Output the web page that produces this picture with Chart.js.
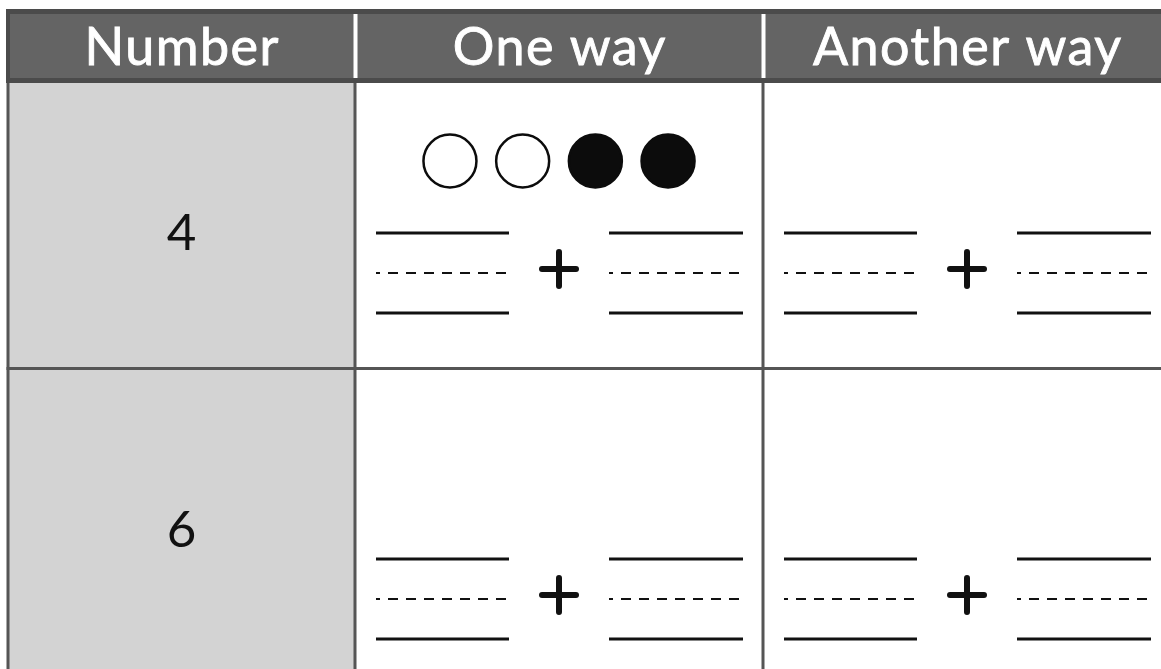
<!DOCTYPE html>
<html>
<head>
<meta charset="utf-8">
<script src="https://cdn.jsdelivr.net/npm/chart.js@4.4.1/dist/chart.umd.min.js"></script>
<style>
  html, body { margin: 0; padding: 0; background: #fff; }
  #wrap { width: 1161px; height: 669px; position: relative; }
</style>
</head>
<body>
<div id="wrap"><canvas id="sheet"></canvas></div>
<script>
  // table content
  const headers = ["Number", "One way", "Another way"];
  const numbers = ["4", "6"];
  // counters shown above the first "One way" cell: 0 = open, 1 = filled
  const counters = [[0, 0, 1, 1], []];
  // which answer cells have blanks (row, column)
  const answerCells = [[0, 1], [0, 2], [1, 1], [1, 2]];

  // layout (in page pixels, mapped through the linear scales)
  const colEdges = [8, 355, 763, 1171];
  const headTop = 9;
  const headBottom = 83;
  const rowEdges = [83, 368.5, 720];
  const blankMidY = [273, 599];
  const counterY = 161;
  const counterGap = 72.7;

  const ink = "#111111";
  const gridColor = "#555555";

  function colCenter(c) {
    return (colEdges[c] + colEdges[c + 1]) / 2;
  }

  function seg(x1, y1, x2, y2, width, dash, cap) {
    return {
      type: "line",
      data: [{ x: x1, y: y1 }, { x: x2, y: y2 }],
      borderColor: ink,
      borderWidth: width,
      borderDash: dash || [],
      borderDashOffset: dash ? 6 : 0,
      borderCapStyle: cap || "butt",
      pointRadius: 0,
      showLine: true,
      clip: false
    };
  }

  const datasets = [];

  // blanks: top solid, dashed middle, bottom solid, on both sides of the plus
  for (const [r, c] of answerCells) {
    const cx = colCenter(c);
    const my = blankMidY[r];
    for (const [a, b] of [[cx - 183, cx - 50], [cx + 50, cx + 184]]) {
      datasets.push(seg(a, my - 40, b, my - 40, 3));
      datasets.push(seg(a, my, b, my, 2, [10, 8]));
      datasets.push(seg(a, my + 40, b, my + 40, 3));
    }
    // plus sign
    const py0 = my - 4;
    datasets.push(seg(cx - 17, py0, cx + 17, py0, 6, null, "round"));
    datasets.push(seg(cx, py0 - 17, cx, py0 + 17, 6, null, "round"));
  }

  // counters
  counters.forEach((row, r) => {
    if (!row.length) return;
    const cx = colCenter(1);
    datasets.push({
      type: "scatter",
      data: row.map((v, i) => ({ x: cx + (i - (row.length - 1) / 2) * counterGap, y: counterY })),
      pointStyle: "circle",
      pointRadius: 26.5,
      pointHoverRadius: 26.5,
      pointBorderWidth: 2.5,
      pointBorderColor: "#0c0c0c",
      pointBackgroundColor: row.map((v) => (v ? "#0c0c0c" : "#ffffff")),
      clip: false
    });
  });

  const tablePlugin = {
    id: "tableGrid",
    beforeDatasetsDraw(chart) {
      const { ctx, scales: { x, y } } = chart;
      const px = (v) => x.getPixelForValue(v);
      const py = (v) => y.getPixelForValue(v);
      const rect = (x1, y1, x2, y2, color) => {
        ctx.fillStyle = color;
        ctx.fillRect(px(x1), py(y1), px(x2) - px(x1), py(y2) - py(y1));
      };

      ctx.save();
      // number column
      rect(colEdges[0], headBottom, colEdges[1], rowEdges[2], "#d3d3d3");

      // body grid
      rect(colEdges[0] - 1.5, headBottom, colEdges[0] + 1.5, rowEdges[2], gridColor);
      rect(colEdges[1] - 1.5, headBottom, colEdges[1] + 1.5, rowEdges[2], gridColor);
      rect(colEdges[2] - 1.5, headBottom, colEdges[2] + 1.5, rowEdges[2], gridColor);
      rect(colEdges[0] - 1.5, rowEdges[1] - 1.5, colEdges[3], rowEdges[1] + 1.5, gridColor);

      // header band
      rect(colEdges[0] - 2, headTop, colEdges[3], headBottom, "#4b4b4b");
      rect(colEdges[0] + 2, headTop + 5, colEdges[3], headBottom - 5, "#646464");
      rect(colEdges[1] - 1.5, headTop + 5, colEdges[1] + 2.5, headBottom - 5, "#ffffff");
      rect(colEdges[2] - 1.5, headTop + 5, colEdges[2] + 2.5, headBottom - 5, "#ffffff");

      // header labels
      ctx.fillStyle = "#ffffff";
      ctx.strokeStyle = "#ffffff";
      ctx.lineWidth = 0.9;
      ctx.textAlign = "center";
      ctx.textBaseline = "alphabetic";
      ctx.font = "400 52px Lato";
      ctx.letterSpacing = "1.5px";
      headers.forEach((h, i) => {
        ctx.fillText(h, px(colCenter(i)) + 0.75, py(65));
        ctx.strokeText(h, px(colCenter(i)) + 0.75, py(65));
      });

      // row numbers
      ctx.letterSpacing = "0px";
      ctx.fillStyle = ink;
      ctx.font = "400 51px Lato";
      const base = [250, 547];
      numbers.forEach((n, r) => {
        ctx.fillText(n, px(colCenter(0)), py(base[r]));
      });
      ctx.restore();
    }
  };

  new Chart(document.getElementById("sheet"), {
    type: "scatter",
    data: { datasets },
    options: {
      responsive: true,
      maintainAspectRatio: false,
      animation: false,
      events: [],
      layout: { padding: 0, autoPadding: false },
      plugins: { legend: { display: false }, tooltip: { enabled: false } },
      scales: {
        x: { type: "linear", min: 0, max: 1161, display: false },
        y: { type: "linear", min: 0, max: 669, reverse: true, display: false }
      }
    },
    plugins: [tablePlugin]
  });
</script>
</body>
</html>
